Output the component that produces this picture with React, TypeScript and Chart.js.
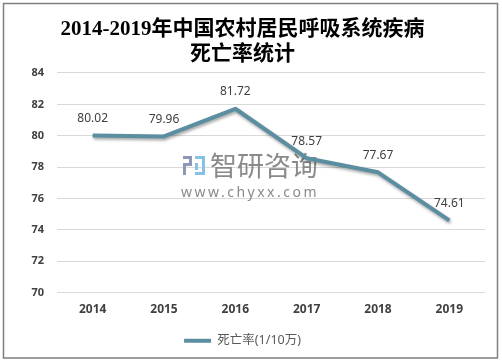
import React, { useEffect, useRef } from 'react';
import { Chart, registerables } from 'chart.js';

Chart.register(...registerables);

const years = ['2014', '2015', '2016', '2017', '2018', '2019'];
const rates = [80.02, 79.96, 81.72, 78.57, 77.67, 74.61];
const seriesName = '死亡率(1/10万)';
const titleLines = ['2014-2019年中国农村居民呼吸系统疾病', '死亡率统计'];
const yMin = 70;
const yMax = 84;
const yStep = 2;
const watermarkName = '智研咨询';
const watermarkUrl = 'www.chyxx.com';

const SANS = "'Noto Sans', 'Noto Sans CJK SC', sans-serif";
const LINE_COLOR = '#5a8ea0';

const backgroundPlugin = {
  id: 'bgFrame',
  beforeDraw(chart: any) {
    const ctx = chart.ctx;
    ctx.save();
    ctx.fillStyle = '#ffffff';
    ctx.fillRect(0, 0, chart.width, chart.height);
    ctx.restore();
  },
  afterDraw(chart: any) {
    const ctx = chart.ctx;
    ctx.save();
    ctx.strokeStyle = '#7f7f7f';
    ctx.lineWidth = 1.5;
    ctx.strokeRect(3.5, 3.5, chart.width - 8, chart.height - 8.5);
    ctx.restore();
  },
};

const watermarkPlugin = {
  id: 'watermark',
  beforeDatasetsDraw(chart: any) {
    const ctx = chart.ctx;
    ctx.save();
    ctx.fillStyle = '#8f97b9';
    ctx.fillRect(183, 156, 9, 3);
    ctx.fillRect(189, 156, 3, 10);
    ctx.fillRect(183, 163, 9, 3);
    ctx.fillRect(183, 163, 3, 12);
    ctx.fillStyle = '#86c1e8';
    ctx.fillRect(195, 156, 10, 3);
    ctx.fillRect(202, 156, 3, 19);
    ctx.fillRect(195, 172, 10, 3);
    ctx.fillRect(195, 163, 3, 7);
    ctx.fillStyle = 'rgba(125,125,125,0.9)';
    ctx.font = `27px 'Noto Sans CJK SC', sans-serif`;
    ctx.textAlign = 'left';
    ctx.textBaseline = 'middle';
    ctx.fillText(watermarkName, 210, 166);
    ctx.font = `14px ${SANS}`;
    (ctx as any).letterSpacing = '2.5px';
    ctx.fillText(watermarkUrl, 181, 193);
    ctx.restore();
  },
};

const shadowPlugin = {
  id: 'lineShadow',
  beforeDatasetDraw(chart: any) {
    const ctx = chart.ctx;
    ctx.save();
    ctx.shadowColor = 'rgba(0,0,0,0.35)';
    ctx.shadowBlur = 3;
    ctx.shadowOffsetX = 1;
    ctx.shadowOffsetY = 2;
  },
  afterDatasetDraw(chart: any) {
    chart.ctx.restore();
  },
};

const valueLabelPlugin = {
  id: 'valueLabels',
  afterDatasetsDraw(chart: any) {
    const ctx = chart.ctx;
    const meta = chart.getDatasetMeta(0);
    const data = chart.data.datasets[0].data as number[];
    ctx.save();
    ctx.fillStyle = '#404040';
    ctx.font = `12px ${SANS}`;
    ctx.textAlign = 'center';
    ctx.textBaseline = 'middle';
    meta.data.forEach((pt: any, i: number) => {
      ctx.fillText(data[i].toFixed(2), pt.x, pt.y - 17);
    });
    ctx.restore();
  },
};

export default function App() {
  const canvasRef = useRef<HTMLCanvasElement | null>(null);

  useEffect(() => {
    document.body.style.margin = '0';
    const canvas = canvasRef.current;
    if (!canvas) return;
    const chart = new Chart(canvas, {
      type: 'line',
      data: {
        labels: years,
        datasets: [
          {
            label: seriesName,
            data: rates,
            borderColor: LINE_COLOR,
            backgroundColor: LINE_COLOR,
            borderWidth: 4,
            pointRadius: 0,
            pointHoverRadius: 0,
            tension: 0,
            borderJoinStyle: 'round',
            borderCapStyle: 'butt',
            fill: false,
          },
        ],
      },
      options: {
        responsive: false,
        animation: false,
        layout: { padding: { left: 0, right: 17, top: 0, bottom: 6 } },
        plugins: {
          title: {
            display: true,
            text: titleLines,
            color: '#000000',
            font: {
              family: "'Liberation Serif', 'Noto Sans CJK SC', serif",
              size: 21,
              weight: 'bold',
              lineHeight: 1.19,
            },
            padding: { top: 17, bottom: 6 },
          },
          legend: {
            display: true,
            position: 'bottom',
            labels: {
              usePointStyle: true,
              pointStyle: 'line',
              pointStyleWidth: 27,
              color: '#595959',
              font: { family: SANS, size: 12.5 },
              padding: 10,
            },
          },
          tooltip: { enabled: false },
        },
        scales: {
          x: {
            offset: true,
            grid: { display: false, drawTicks: false },
            border: { display: false },
            ticks: {
              color: '#404040',
              font: { family: SANS, size: 12, weight: 'bold' },
              padding: 10,
              maxRotation: 0,
            },
            afterFit(scale: any) {
              scale.height = 31.8;
            },
          },
          y: {
            min: yMin,
            max: yMax,
            grid: { color: '#d9d9d9', lineWidth: 1, drawTicks: false },
            border: { display: false },
            ticks: {
              stepSize: yStep,
              color: '#404040',
              font: { family: SANS, size: 11, weight: 'bold' },
              padding: 13,
            },
            afterFit(scale: any) {
              scale.width = 57;
            },
          },
        },
      },
      plugins: [backgroundPlugin, watermarkPlugin, shadowPlugin, valueLabelPlugin],
    });
    return () => chart.destroy();
  }, []);

  return (
    <div style={{ width: 502, height: 363 }}>
      <canvas ref={canvasRef} width={502} height={363} />
    </div>
  );
}
